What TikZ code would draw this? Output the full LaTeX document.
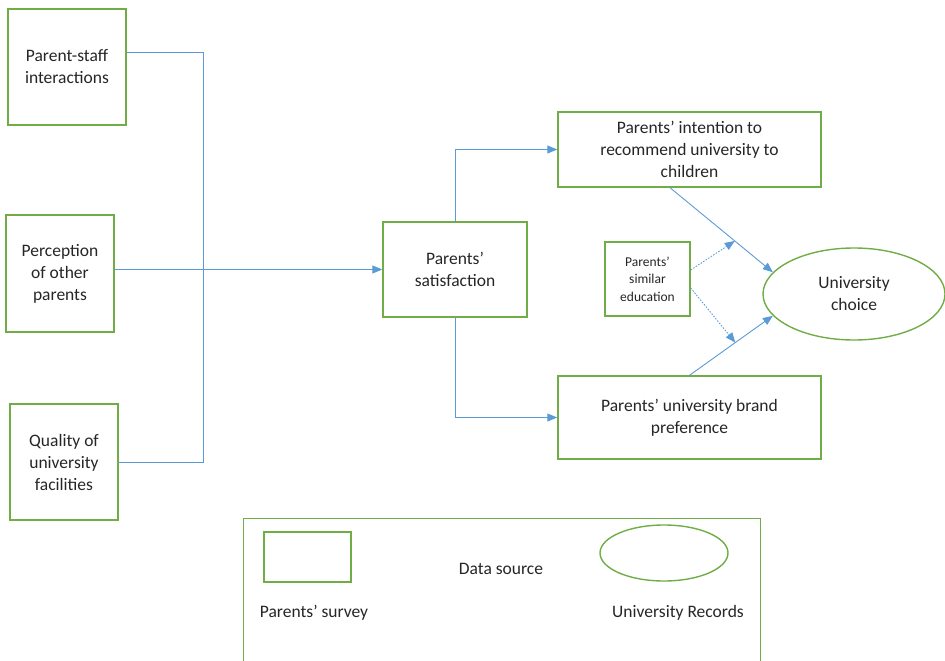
\documentclass[tikz,border=0pt]{standalone}
\usepackage{fontspec}
\setmainfont{Carlito}
\usetikzlibrary{arrows.meta,shapes.geometric,calc}
\definecolor{boxgreen}{RGB}{112,173,71}
\definecolor{linkblue}{RGB}{91,155,213}
\definecolor{txt}{RGB}{38,38,38}
\begin{document}
\begin{tikzpicture}[x=1pt,y=-1pt,
  box/.style={draw=boxgreen,line width=1.4pt,align=center,text=txt,
              font=\fontsize{17.5}{22}\selectfont,inner sep=0pt},
  smallbox/.style={box,font=\fontsize{13.5}{17.5}\selectfont},
  oval/.style={box,ellipse},
  link/.style={draw=linkblue,line width=0.9pt},
  arr/.style={link,-{Triangle[length=10pt,width=8pt]}},
  dotlink/.style={arr,dash pattern=on 1.5pt off 1.5pt},
  keytext/.style={text=txt,font=\fontsize{17.5}{22}\selectfont,inner sep=0pt}]
\useasboundingbox (0,0) rectangle (945,661);
\clip (0,0) rectangle (945,661);

% antecedents
\node[box,minimum width=118pt,minimum height=116pt] (ps) at (67,67) {Parent-staff\\interactions};
\node[box,minimum width=108pt,minimum height=117pt] (po) at (60,273.5) {Perception\\of other\\parents};
\node[box,minimum width=108pt,minimum height=116pt] (qf) at (64,462) {Quality of\\university\\facilities};

% mediator and outcomes
\node[box,minimum width=144pt,minimum height=95pt] (sat) at (455,269.5) {Parents’\\satisfaction};
\node[box,minimum width=263pt,minimum height=75pt] (int) at (689.5,149.5) {Parents’ intention to\\recommend university to\\children};
\node[box,minimum width=263pt,minimum height=83pt] (brand) at (689.5,417.5) {Parents’ university brand\\preference};
\node[smallbox,minimum width=85pt,minimum height=74pt] (se) at (647.5,279) {Parents’\\similar\\education};
\node[oval,minimum width=182pt,minimum height=92pt] (uc) at (854,294) {University\\choice};

% key
\node[box,minimum width=517pt,minimum height=160pt,anchor=north west] (key) at (243,518) {};
\node[box,minimum width=87pt,minimum height=50pt] (ksurvey) at (307.5,557) {};
\node[oval,minimum width=128pt,minimum height=56pt] (krec) at (664,553) {};
\node[keytext] (kds) at (501,569) {Data source};
\node[keytext] (ks) at (314,613) {Parents’ survey};
\node[keytext] (kr) at (678,613) {University Records};

% connectors
\coordinate (tTop) at (203.5,52);
\coordinate (tBot) at (203.5,462);
\draw[link] (ps.east |- tTop) -- (tTop) -- (tBot) -- (qf.east |- tBot);
\draw[arr] (po.east |- sat.west) -- (sat.west);
\draw[arr] (sat.north) |- (int.west);
\draw[arr] (sat.south) |- (brand.west);
\coordinate (intOut) at ([xshift=-19.5pt]int.south);
\draw[arr] (intOut) -- (uc.165);
\draw[arr] (brand.north) -- (uc.195);
\draw[dotlink] ([yshift=9pt]se.east) -- ($(intOut)!0.63!(uc.165)$);
\draw[dotlink] ([yshift=-9pt]se.east) -- ($(brand.north)!0.55!(uc.195)$);
\end{tikzpicture}
\end{document}
